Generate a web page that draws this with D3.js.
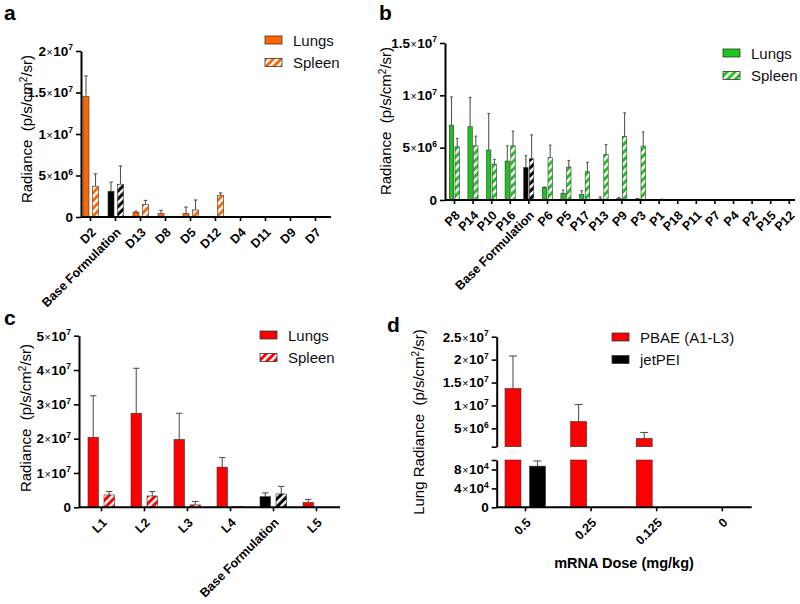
<!DOCTYPE html>
<html><head><meta charset="utf-8">
<script src="https://cdn.jsdelivr.net/npm/d3@7"></script>
<style>
body{margin:0;background:#fff}
text{font-family:"Liberation Sans",Arial,sans-serif}
</style>
</head><body>
<svg id="chart" width="800" height="604"></svg>
<script>
// ---------- DATA ----------
// Panel a
const aCategories = ["D2","Base Formulation","D13","D8","D5","D12","D4","D11","D9","D7"];
const aLungs   = [14.5e6, 3.1e6, 0.55e6, 0.4e6, 0.4e6, 0, 0.02e6, 0, 0, 0];
const aLungsSD = [2.5e6, 1.1e6, 0.15e6, 0.4e6, 0.8e6, 0, 0, 0, 0, 0];
const aSpleen   = [3.7e6, 3.95e6, 1.5e6, 0.02e6, 0.85e6, 2.6e6, 0.05e6, 0, 0, 0];
const aSpleenSD = [1.5e6, 2.2e6, 0.5e6, 0, 1.2e6, 0.3e6, 0, 0, 0, 0];
const aYTicks = [0, 5e6, 1e7, 1.5e7, 2e7];

// Panel b
const bCategories = ["P8","P14","P10","P16","Base Formulation","P6","P5","P17","P13","P9","P3","P1","P18","P11","P7","P4","P2","P15","P12"];
const bLungs   = [7.15e6, 7.0e6, 4.77e6, 3.72e6, 3.11e6, 1.18e6, 0.64e6, 0.54e6, 0.1e6, 0.13e6, 0.1e6, 0.02e6, 0.01e6, 0, 0.02e6, 0, 0, 0, 0];
const bLungsSD = [2.7e6, 2.8e6, 3.5e6, 1.46e6, 1.12e6, 0.06e6, 0.31e6, 0.35e6, 0.2e6, 0.12e6, 0.03e6, 0, 0, 0, 0, 0, 0, 0, 0];
const bSpleen   = [5.08e6, 5.18e6, 3.43e6, 5.18e6, 3.94e6, 4.04e6, 3.15e6, 2.7e6, 4.35e6, 6.07e6, 5.15e6, 0.06e6, 0.01e6, 0, 0.05e6, 0, 0, 0, 0];
const bSpleenSD = [0.8e6, 0.92e6, 0.45e6, 1.4e6, 2.29e6, 1.2e6, 0.63e6, 0.9e6, 0.95e6, 2.26e6, 1.35e6, 0.02e6, 0, 0, 0, 0, 0, 0, 0];
const bYTicks = [0, 5e6, 1e7, 1.5e7];

// Panel c
const cCategories = ["L1","L2","L3","L4","Base Formulation","L5"];
const cLungs   = [2.04e7, 2.74e7, 1.98e7, 1.17e7, 0.31e7, 0.14e7];
const cLungsSD = [1.21e7, 1.31e7, 0.76e7, 0.28e7, 0.11e7, 0.09e7];
const cSpleen   = [0.36e7, 0.33e7, 0.07e7, 0.02e7, 0.39e7, 0];
const cSpleenSD = [0.1e7, 0.13e7, 0.1e7, 0, 0.22e7, 0];
const cYTicks = [0, 1e7, 2e7, 3e7, 4e7, 5e7];

// Panel d
const dCategories = ["0.5","0.25","0.125","0"];
const dPBAE   = [1.37e7, 6.5e6, 2.8e6, 0];
const dPBAESD = [7.1e6, 3.7e6, 1.3e6, 0];
const dJetPEI   = [8.7e4, 0, 0, 0];
const dJetPEISD = [1.1e4, 0, 0, 0];
const dUpperTicks = [1e6, 5e6, 1e7, 1.5e7, 2e7, 2.5e7];
const dLowerTicks = [0, 4e4, 8e4, 1e5];

// ---------- DRAWING ----------
const svg = d3.select("#chart");
const defs = svg.append("defs");
function hatch(id, color){
  const p = defs.append("pattern").attr("id", id)
    .attr("patternUnits","userSpaceOnUse").attr("width",5.5).attr("height",5.5)
    .attr("patternTransform","rotate(45)");
  p.append("rect").attr("width",5.5).attr("height",5.5).attr("fill",color);
  p.append("rect").attr("width",2.5).attr("height",5.5).attr("fill","#fff");
}
const ORANGE = "#ff6600", GREEN = "#1ec31e", RED = "#ff0000";
hatch("hOrange", ORANGE); hatch("hGreen", GREEN); hatch("hRed", RED); hatch("hBlack", "#000");

function sciLabels(sel, hide){
  sel.each(function(v){
    const t = d3.select(this); t.text("");
    if (hide && hide(v)) return;
    if (v === 0){ t.append("tspan").text("0"); return; }
    const e = Math.floor(Math.log10(v) + 1e-9);
    const m = +(v / Math.pow(10, e)).toFixed(2);
    t.append("tspan").text(m);
    t.append("tspan").style("font-size","10.5px").style("font-weight","normal").attr("dx","0.6").text("\u00d7");
    t.append("tspan").attr("dx","0.6").text("10");
    t.append("tspan").style("font-size","8.5px").attr("dy","-5.5").text(e);
  });
}

function styleYAxis(g){
  g.select(".domain").attr("stroke","#000").attr("stroke-width",2);
  g.selectAll(".tick line").attr("stroke","#000").attr("stroke-width",1.6);
  g.selectAll(".tick text").style("font-size","13.5px").style("font-weight","bold").attr("fill","#000");
}

function xAxis(x, y0, x0, x1){
  const g = svg.append("g").attr("transform",`translate(0,${y0})`)
    .call(d3.axisBottom(x).tickSize(4).tickSizeOuter(0));
  g.select(".domain").remove();
  g.selectAll(".tick line").attr("stroke","#000").attr("stroke-width",1.6);
  g.selectAll(".tick text").style("font-size","12.5px").style("font-weight","bold").attr("fill","#000")
    .attr("text-anchor","end").attr("x",0).attr("y",0).attr("dy","0.35em")
    .attr("transform","translate(3,13) rotate(-45)");
  svg.append("line").attr("x1",x0).attr("x2",x1).attr("y1",y0).attr("y2",y0)
    .attr("stroke","#000").attr("stroke-width",2);
}

function errBar(g, cx, yTop, yEnd, capW){
  g.append("line").attr("x1",cx).attr("x2",cx).attr("y1",yTop).attr("y2",yEnd)
    .attr("stroke","#555").attr("stroke-width",1.1);
  g.append("line").attr("x1",cx-capW/2).attr("x2",cx+capW/2).attr("y1",yEnd).attr("y2",yEnd)
    .attr("stroke","#555").attr("stroke-width",1.1);
}

function yTitle(x, cy, prefix){
  const t = svg.append("text").attr("transform",`translate(${x},${cy}) rotate(-90)`)
    .attr("text-anchor","middle").style("font-size","15px").attr("fill","#000");
  t.append("tspan").text(prefix + "Radiance\u00a0\u00a0(p/s/cm");
  t.append("tspan").style("font-size","10px").attr("dy","-5").text("2");
  t.append("tspan").attr("dy","5").text("/sr)");
}

function legend(x, y, items){
  items.forEach((it, i) => {
    const yy = y + i * 22.5;
    svg.append("rect").attr("x",x).attr("y",yy).attr("width",17).attr("height",8)
      .attr("fill",it.fill).attr("stroke","#333").attr("stroke-width",0.8);
    svg.append("text").attr("x",x+28).attr("y",yy+9.5).style("font-size","15px").attr("fill","#111").text(it.label);
  });
}

function panelLetter(x, y, s){
  svg.append("text").attr("x",x).attr("y",y).style("font-size","21px").style("font-weight","bold").text(s);
}

function grouped(cfg){
  const n = cfg.cats.length;
  const x = d3.scalePoint().domain(cfg.cats).range([cfg.firstTick, cfg.firstTick + cfg.step*(n-1)]);
  const y = d3.scaleLinear().domain([0, cfg.yMax]).range([cfg.y0, cfg.yTop]);
  const g = svg.append("g");
  cfg.cats.forEach((c, i) => {
    const t = x(c);
    const isBase = c === "Base Formulation";
    const series = [
      {v: cfg.lungs[i], sd: cfg.lungsSD[i], off: cfg.lungOff, fill: isBase ? "#000" : cfg.color},
      {v: cfg.spleen[i], sd: cfg.spleenSD[i], off: cfg.spleenOff, fill: isBase ? "url(#hBlack)" : `url(#${cfg.hatchId})`}
    ];
    series.forEach(s => {
      if (s.v <= 0) return;
      const bx = t + s.off;
      if (s.sd > 0) errBar(g, bx + cfg.barW/2, y(s.v), y(s.v + s.sd), cfg.barW*0.6);
      g.append("rect").attr("x",bx).attr("width",cfg.barW)
        .attr("y",y(s.v)).attr("height",cfg.y0 - y(s.v))
        .attr("fill",s.fill).attr("stroke","#333").attr("stroke-width",0.6);
    });
  });
  const ya = svg.append("g").attr("transform",`translate(${cfg.x0},0)`)
    .call(d3.axisLeft(y).tickValues(cfg.yTicks).tickSize(5).tickPadding(3).tickSizeOuter(0));
  styleYAxis(ya);
  sciLabels(ya.selectAll(".tick text"));
  xAxis(x, cfg.y0, cfg.x0, cfg.x1);
}

// Panel a
grouped({cats:aCategories, lungs:aLungs, lungsSD:aLungsSD, spleen:aSpleen, spleenSD:aSpleenSD,
  color:ORANGE, hatchId:"hOrange", x0:81, x1:331, firstTick:90, step:25, y0:217, yTop:51, yMax:2e7,
  yTicks:aYTicks, lungOff:-7, spleenOff:2.5, barW:6});
panelLetter(4, 20, "a");
yTitle(32, 129, "");
legend(265, 36, [{fill:ORANGE, label:"Lungs"},{fill:"url(#hOrange)", label:"Spleen"}]);

// Panel b
grouped({cats:bCategories, lungs:bLungs, lungsSD:bLungsSD, spleen:bSpleen, spleenSD:bSpleenSD,
  color:GREEN, hatchId:"hGreen", x0:445, x1:795, firstTick:454, step:18.6, y0:200, yTop:43, yMax:1.5e7,
  yTicks:bYTicks, lungOff:-4.7, spleenOff:1, barW:4.4});
panelLetter(379, 20, "b");
yTitle(391, 121, "");
legend(723, 49, [{fill:GREEN, label:"Lungs"},{fill:"url(#hGreen)", label:"Spleen"}]);

// Panel c
grouped({cats:cCategories, lungs:cLungs, lungsSD:cLungsSD, spleen:cSpleen, spleenSD:cSpleenSD,
  color:RED, hatchId:"hRed", x0:79, x1:340, firstTick:101, step:43, y0:507.3, yTop:335.7, yMax:5e7,
  yTicks:cYTicks, lungOff:-13, spleenOff:3, barW:10.5});
panelLetter(4, 325, "c");
yTitle(31, 418, "");
legend(260, 331, [{fill:RED, label:"Lungs"},{fill:"url(#hRed)", label:"Spleen"}]);

// Panel d (broken axis)
(function(){
  const x = d3.scalePoint().domain(dCategories).range([525, 525 + 65.6*3]);
  const yU = d3.scaleLinear().domain([1e6, 2.5e7]).range([446.7, 336.7]);
  const yL = d3.scaleLinear().domain([0, 1e5]).range([507.3, 460]);
  const g = svg.append("g");
  const barW = 16;
  function drawBar(v, sd, bx, fill){
    if (v <= 0) return;
    const vl = Math.min(v, 1e5);
    if (v > 1e6){
      const vu = Math.min(v, 2.5e7);
      if (sd > 0) errBar(g, bx + barW/2, yU(v), yU(v + sd), 8);
      g.append("rect").attr("x",bx).attr("width",barW).attr("y",yU(vu)).attr("height",yU(1e6)-yU(vu))
        .attr("fill",fill).attr("stroke","#333").attr("stroke-width",0.6);
    } else if (sd > 0) {
      errBar(g, bx + barW/2, yL(v), yL(v + sd), 8);
    }
    g.append("rect").attr("x",bx).attr("width",barW).attr("y",yL(vl)).attr("height",yL(0)-yL(vl))
      .attr("fill",fill).attr("stroke","#333").attr("stroke-width",0.6);
  }
  dCategories.forEach((c, i) => {
    const t = x(c);
    drawBar(dPBAE[i], dPBAESD[i], t - 20, RED);
    drawBar(dJetPEI[i], dJetPEISD[i], t + 4.5, "#000");
  });
  const yaU = svg.append("g").attr("transform","translate(496.7,0)")
    .call(d3.axisLeft(yU).tickValues(dUpperTicks).tickSize(5).tickPadding(3).tickSizeOuter(0));
  styleYAxis(yaU);
  sciLabels(yaU.selectAll(".tick text"), v => v === 1e6);
  const yaL = svg.append("g").attr("transform","translate(496.7,0)")
    .call(d3.axisLeft(yL).tickValues(dLowerTicks).tickSize(5).tickPadding(3).tickSizeOuter(0));
  styleYAxis(yaL);
  sciLabels(yaL.selectAll(".tick text"), v => v === 1e5);
  xAxis(x, 507.3, 496.7, 751.7);
  svg.append("text").attr("x",624).attr("y",568).attr("text-anchor","middle")
    .style("font-size","14.5px").style("font-weight","bold").text("mRNA Dose (mg/kg)");
  const t = svg.append("text").attr("transform","translate(424,422) rotate(-90)")
    .attr("text-anchor","middle").style("font-size","15px");
  t.append("tspan").text("Lung Radiance\u00a0\u00a0(p/s/cm");
  t.append("tspan").style("font-size","10px").attr("dy","-5").text("2");
  t.append("tspan").attr("dy","5").text("/sr)");
  legend(612, 333, [{fill:RED, label:"PBAE (A1-L3)"},{fill:"#000", label:"jetPEI"}]);
})();
panelLetter(387, 332, "d");
</script>
</body></html>
